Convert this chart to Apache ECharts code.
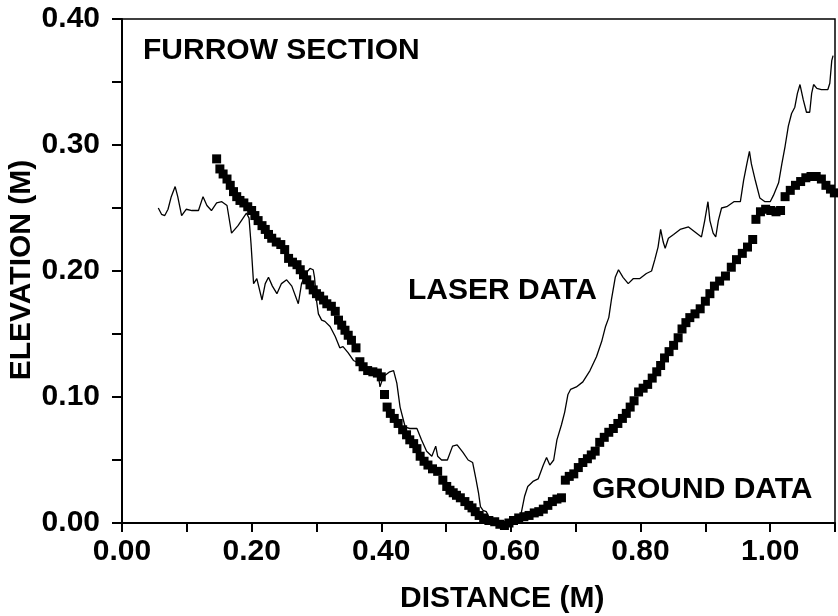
<!DOCTYPE html>
<html>
<head>
<meta charset="utf-8">
<script src="https://cdn.jsdelivr.net/npm/echarts@6/dist/echarts.min.js"></script>
<style>
  html, body { margin: 0; padding: 0; background: #fff; }
  #chart { width: 838px; height: 616px; }
</style>
</head>
<body>
<div id="chart"></div>
<script>
// laser profile (thin line): [distance, elevation]
var laserX = [0.056, 0.061, 0.066, 0.071, 0.076, 0.082, 0.086, 0.092, 0.099, 0.108, 0.118, 0.125, 0.131, 0.138, 0.146, 0.154, 0.162, 0.169, 0.179, 0.192,
  0.196, 0.199, 0.203, 0.208, 0.216, 0.221, 0.226, 0.232, 0.239, 0.246, 0.254, 0.262, 0.272, 0.277, 0.285, 0.290, 0.295, 0.297, 0.300, 0.303,
  0.308, 0.313, 0.321, 0.329, 0.336, 0.341, 0.349, 0.357, 0.365, 0.372, 0.383, 0.395, 0.398, 0.403, 0.413, 0.419, 0.424, 0.429, 0.437, 0.444,
  0.455, 0.462, 0.470, 0.478, 0.484, 0.487, 0.493, 0.502, 0.510, 0.517, 0.526, 0.534, 0.541, 0.546, 0.550, 0.553, 0.557, 0.562, 0.566, 0.575,
  0.585, 0.598, 0.608, 0.616, 0.621, 0.626, 0.634, 0.642, 0.650, 0.655, 0.660, 0.666, 0.671, 0.678, 0.683, 0.688, 0.692, 0.701, 0.711, 0.722,
  0.732, 0.740, 0.746, 0.751, 0.755, 0.761, 0.766, 0.773, 0.781, 0.789, 0.799, 0.809, 0.817, 0.822, 0.827, 0.831, 0.835, 0.838, 0.843, 0.851,
  0.861, 0.874, 0.884, 0.894, 0.899, 0.904, 0.907, 0.912, 0.916, 0.920, 0.925, 0.933, 0.944, 0.954, 0.959, 0.964, 0.968, 0.971, 0.977, 0.984,
  0.992, 1.000, 1.005, 1.013, 1.018, 1.023, 1.028, 1.033, 1.038, 1.042, 1.046, 1.051, 1.056, 1.061, 1.064, 1.067, 1.072, 1.079, 1.089, 1.092,
  1.095, 1.097]
var laserY = [0.250, 0.245, 0.244, 0.249, 0.259, 0.267, 0.259, 0.244, 0.249, 0.248, 0.248, 0.259, 0.252, 0.248, 0.254, 0.255, 0.252, 0.230, 0.236, 0.246,
  0.242, 0.222, 0.190, 0.194, 0.177, 0.190, 0.195, 0.188, 0.182, 0.190, 0.193, 0.188, 0.174, 0.190, 0.199, 0.202, 0.201, 0.195, 0.177, 0.166,
  0.161, 0.160, 0.156, 0.148, 0.139, 0.140, 0.135, 0.129, 0.127, 0.124, 0.121, 0.119, 0.108, 0.116, 0.120, 0.121, 0.111, 0.092, 0.076, 0.075,
  0.075, 0.066, 0.057, 0.053, 0.061, 0.053, 0.050, 0.050, 0.061, 0.062, 0.056, 0.050, 0.048, 0.035, 0.024, 0.013, 0.010, 0.009, 0.005, 0.002,
  0.000, 0.000, 0.002, 0.008, 0.021, 0.029, 0.033, 0.035, 0.046, 0.052, 0.046, 0.050, 0.066, 0.078, 0.088, 0.102, 0.106, 0.108, 0.112, 0.121,
  0.132, 0.144, 0.156, 0.163, 0.177, 0.195, 0.201, 0.195, 0.190, 0.194, 0.194, 0.198, 0.200, 0.209, 0.219, 0.233, 0.223, 0.218, 0.226, 0.229,
  0.233, 0.235, 0.231, 0.227, 0.240, 0.255, 0.240, 0.230, 0.227, 0.240, 0.250, 0.251, 0.255, 0.255, 0.272, 0.285, 0.295, 0.285, 0.272, 0.258,
  0.255, 0.255, 0.260, 0.270, 0.285, 0.299, 0.315, 0.325, 0.330, 0.341, 0.348, 0.336, 0.326, 0.326, 0.341, 0.348, 0.345, 0.344, 0.344, 0.349,
  0.367, 0.371]

// ground survey (square markers)
var groundX = [0.146, 0.151, 0.156, 0.162, 0.167, 0.172, 0.177, 0.182, 0.188, 0.194, 0.200, 0.205, 0.210, 0.216, 0.221, 0.226, 0.231, 0.238, 0.245, 0.251,
  0.257, 0.263, 0.270, 0.275, 0.280, 0.285, 0.290, 0.295, 0.300, 0.305, 0.311, 0.316, 0.323, 0.329, 0.334, 0.339, 0.344, 0.349, 0.354, 0.361,
  0.367, 0.372, 0.379, 0.387, 0.394, 0.400, 0.405, 0.409, 0.414, 0.420, 0.426, 0.433, 0.439, 0.444, 0.450, 0.455, 0.460, 0.466, 0.472, 0.479,
  0.487, 0.495, 0.501, 0.506, 0.511, 0.516, 0.522, 0.529, 0.535, 0.540, 0.545, 0.551, 0.558, 0.566, 0.575, 0.583, 0.590, 0.597, 0.604, 0.612,
  0.620, 0.628, 0.636, 0.643, 0.650, 0.657, 0.664, 0.671, 0.678, 0.684, 0.690, 0.697, 0.704, 0.711, 0.718, 0.724, 0.730, 0.737, 0.744, 0.751,
  0.758, 0.765, 0.772, 0.778, 0.784, 0.790, 0.797, 0.804, 0.811, 0.818, 0.825, 0.831, 0.837, 0.844, 0.851, 0.858, 0.864, 0.870, 0.876, 0.884,
  0.892, 0.900, 0.907, 0.914, 0.922, 0.931, 0.940, 0.948, 0.957, 0.965, 0.973, 0.978, 0.985, 0.993, 1.001, 1.009, 1.016, 1.023, 1.031, 1.039,
  1.047, 1.055, 1.063, 1.071, 1.079, 1.086, 1.093, 1.099]
var groundY = [0.289, 0.281, 0.277, 0.273, 0.268, 0.263, 0.259, 0.256, 0.254, 0.251, 0.248, 0.244, 0.240, 0.236, 0.233, 0.229, 0.226, 0.223, 0.221, 0.217,
  0.210, 0.207, 0.205, 0.201, 0.197, 0.193, 0.189, 0.185, 0.182, 0.180, 0.177, 0.174, 0.172, 0.168, 0.161, 0.157, 0.153, 0.149, 0.145, 0.139,
  0.128, 0.124, 0.121, 0.120, 0.119, 0.116, 0.102, 0.092, 0.087, 0.083, 0.079, 0.074, 0.070, 0.066, 0.063, 0.059, 0.053, 0.049, 0.046, 0.043,
  0.041, 0.034, 0.029, 0.026, 0.024, 0.022, 0.020, 0.017, 0.014, 0.012, 0.009, 0.006, 0.004, 0.002, 0.001, -0.001, -0.002, 0.000, 0.002, 0.004,
  0.005, 0.006, 0.008, 0.009, 0.011, 0.014, 0.017, 0.019, 0.020, 0.034, 0.037, 0.039, 0.044, 0.048, 0.051, 0.054, 0.057, 0.064, 0.068, 0.072,
  0.075, 0.079, 0.083, 0.087, 0.092, 0.097, 0.104, 0.107, 0.110, 0.115, 0.120, 0.125, 0.131, 0.136, 0.141, 0.147, 0.154, 0.159, 0.163, 0.166,
  0.170, 0.176, 0.182, 0.188, 0.192, 0.196, 0.203, 0.209, 0.214, 0.219, 0.225, 0.241, 0.247, 0.249, 0.248, 0.247, 0.248, 0.259, 0.264, 0.268,
  0.271, 0.274, 0.275, 0.275, 0.273, 0.268, 0.265, 0.262]

var xTicks = [0, 0.2, 0.4, 0.6, 0.8, 1.0]
var yTicks = [0, 0.1, 0.2, 0.3, 0.4]

function zip(xs, ys) {
  return xs.map((x, i) => [x, ys[i]])
}

function onTick(list, v) {
  return list.some(t => Math.abs(t - v) < 1e-6)
}

var font = 'Liberation Sans, Arial, Helvetica, sans-serif'
var bold30 = { fontFamily: font, fontWeight: 'bold', fontSize: 30, color: '#000' }
var textStyle = { font: 'bold 30px ' + font, fill: '#000' }

var chart = echarts.init(document.getElementById('chart'), null, { renderer: 'canvas' })

chart.setOption({
  backgroundColor: '#fff',
  animation: false,
  grid: { left: 122, right: 3, top: 19, bottom: 93, show: true, borderColor: '#000', borderWidth: 1.5 },
  xAxis: {
    type: 'value', min: 0, max: 1.1, interval: 0.1,
    axisLine: { lineStyle: { color: '#000', width: 2 } },
    axisTick: { inside: false, length: 9, lineStyle: { color: '#000', width: 2 } },
    splitLine: { show: false },
    axisLabel: Object.assign({}, bold30, {
      margin: 14,
      formatter: v => (onTick(xTicks, v) ? v.toFixed(2) : '')
    })
  },
  yAxis: {
    type: 'value', min: 0, max: 0.4, interval: 0.05,
    axisLine: { lineStyle: { color: '#000', width: 2 } },
    axisTick: { inside: false, length: 10, lineStyle: { color: '#000', width: 2 } },
    splitLine: { show: false },
    axisLabel: Object.assign({}, bold30, {
      margin: 22,
      formatter: v => (onTick(yTicks, v) ? v.toFixed(2) : '')
    })
  },
  series: [
    {
      name: 'LASER DATA', type: 'line', data: zip(laserX, laserY),
      showSymbol: false, symbol: 'none', smooth: false, clip: false,
      lineStyle: { color: '#000', width: 1.3 }, z: 3
    },
    {
      name: 'GROUND DATA', type: 'scatter', data: zip(groundX, groundY),
      symbol: 'rect', symbolSize: 9, clip: false,
      itemStyle: { color: '#000', opacity: 1 }, z: 4
    }
  ],
  graphic: [
    { type: 'text', left: 143, top: 36, style: Object.assign({ text: 'FURROW SECTION' }, textStyle) },
    { type: 'text', left: 408, top: 276, style: Object.assign({ text: 'LASER DATA' }, textStyle) },
    { type: 'text', left: 592, top: 475, style: Object.assign({ text: 'GROUND DATA' }, textStyle) },
    { type: 'text', left: 400, top: 584, style: Object.assign({ text: 'DISTANCE (M)' }, textStyle) },
    {
      type: 'text', x: 22, y: 270, rotation: Math.PI / 2,
      style: Object.assign({ text: 'ELEVATION (M)', align: 'center', verticalAlign: 'middle' }, textStyle)
    }
  ]
})
</script>
</body>
</html>
